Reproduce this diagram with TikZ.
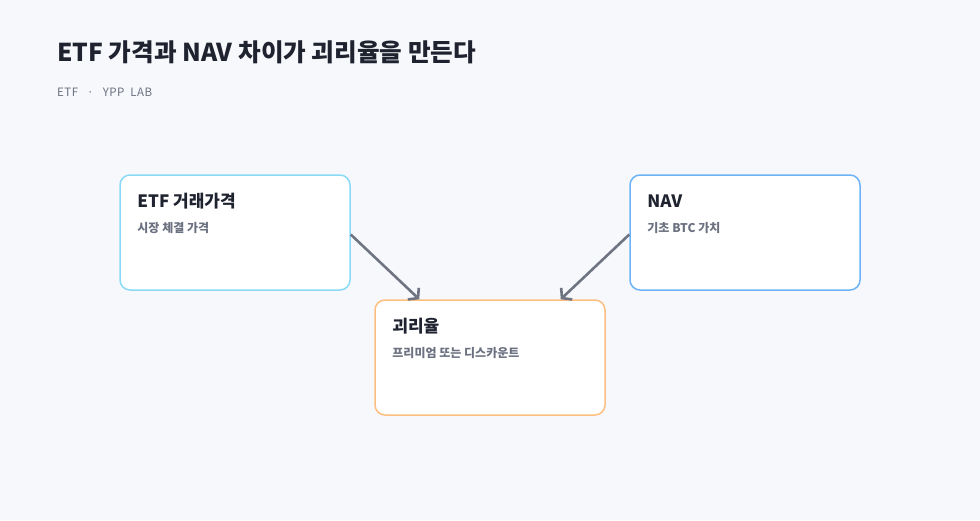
\documentclass[tikz,border=0pt]{standalone}
\usepackage{fontspec}
\setmainfont{Noto Sans CJK KR}
\usetikzlibrary{arrows.meta}

\definecolor{pagebg}{HTML}{F7F8FC}
\definecolor{inkdark}{HTML}{1F2330}
\definecolor{inkgray}{HTML}{6B7180}
\definecolor{cyanline}{HTML}{8ADAF7}
\definecolor{blueline}{HTML}{6CB4F7}
\definecolor{orangeline}{HTML}{FCBF80}
\definecolor{arrowgray}{HTML}{6E7482}

\tikzset{
  card/.style={draw, fill=white, line width=1.5pt, rounded corners=10pt,
    minimum width=230pt, minimum height=115pt, inner sep=0pt},
  cardtitle/.style={anchor=west, inner sep=0pt, text=inkdark, font=\fontsize{17}{20}\selectfont\bfseries},
  cardsub/.style={anchor=west, inner sep=0pt, text=inkgray, font=\fontsize{12}{14}\selectfont\bfseries},
  flow/.style={draw=arrowgray, line width=2.6pt, -{Straight Barb[length=6.5pt,width=16pt]}}
}

\begin{document}
\begin{tikzpicture}[x=1pt,y=-1pt]
        % \draw[help lines, gray!50, very thin] (0,0) grid (980,520);
        \fill[pagebg] (0,0) rectangle (980,520);
        \useasboundingbox (0,0) rectangle (980,520);

        \node[anchor=west, inner sep=0pt, text=inkdark, font=\fontsize{24.6}{28}\selectfont\bfseries] (title) at (57,52) {ETF 가격과 NAV 차이가 괴리율을 만든다};
        \node[anchor=west, inner sep=0pt, text=inkgray, font=\fontsize{11.5}{14}\selectfont\addfontfeature{LetterSpace=4}] (tag) at (57,92) {ETF \ \ ·\ \ \ YPP \ LAB};

        \node[card, draw=cyanline] (etf) at (235,232.5) {};
        \node[cardtitle] (etft) at ([xshift=18pt,yshift=-27pt]etf.north west) {ETF 거래가격};
        \node[cardsub] (etfs) at ([xshift=18pt,yshift=-54pt]etf.north west) {시장 체결 가격};

        \node[card, draw=blueline] (nav) at (745,232.5) {};
        \node[cardtitle] (navt) at ([xshift=18pt,yshift=-27pt]nav.north west) {NAV};
        \node[cardsub] (navs) at ([xshift=18pt,yshift=-54pt]nav.north west) {기초 BTC 가치};

        \node[card, draw=orangeline] (gap) at (490,357.5) {};
        \node[cardtitle] (gapt) at ([xshift=18pt,yshift=-27pt]gap.north west) {괴리율};
        \node[cardsub] (gaps) at ([xshift=18pt,yshift=-54pt]gap.north west) {프리미엄 또는 디스카운트};

        \draw[flow] ([yshift=-2pt]etf.east) -- ([xshift=45pt]gap.north west);
        \draw[flow] ([yshift=-2pt]nav.west) -- ([xshift=-45pt]gap.north east);
      \end{tikzpicture}
\end{document}
